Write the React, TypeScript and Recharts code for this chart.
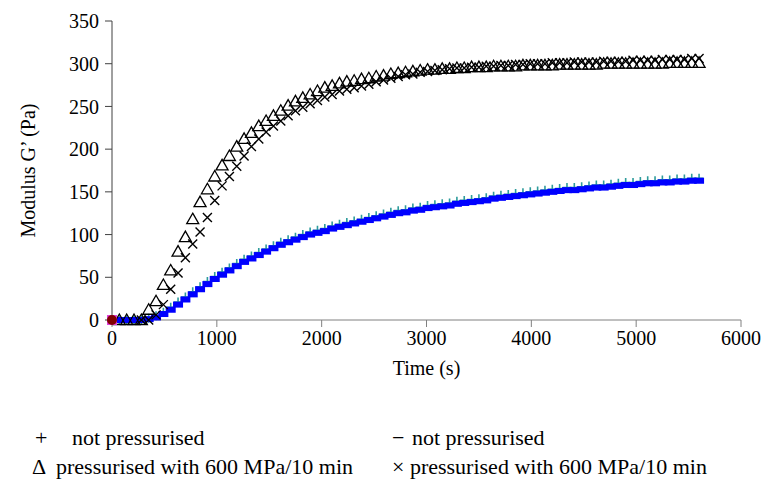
import { ScatterChart, Scatter, XAxis, YAxis } from "recharts";

const times = [
  70, 140, 210, 280, 350, 420, 490, 560, 630, 700,
  770, 840, 910, 980, 1050, 1120, 1190, 1260, 1330, 1400,
  1470, 1540, 1610, 1680, 1750, 1820, 1890, 1960, 2030, 2100,
  2170, 2240, 2310, 2380, 2450, 2520, 2590, 2660, 2730, 2800,
  2870, 2940, 3010, 3080, 3150, 3220, 3290, 3360, 3430, 3500,
  3570, 3640, 3710, 3780, 3850, 3920, 3990, 4060, 4130, 4200,
  4270, 4340, 4410, 4480, 4550, 4620, 4690, 4760, 4830, 4900,
  4970, 5040, 5110, 5180, 5250, 5320, 5390, 5460, 5530, 5600,
];

// Δ pressurised with 600 MPa/10 min
const pressTri = [
  0, 0, 0, 0, 12, 22, 41, 58, 80, 97,
  118, 138, 153, 168, 181, 192, 203, 212, 219, 227,
  233, 239, 245, 251, 256, 260, 264, 268, 272, 274,
  277, 279, 280, 282, 283, 285, 286, 288, 289, 290,
  291, 292, 293, 293, 294, 294, 295, 295, 296, 296,
  296, 297, 297, 297, 297, 298, 298, 298, 298, 298,
  299, 299, 299, 299, 299, 299, 300, 300, 300, 300,
  300, 300, 300, 300, 300, 301, 301, 301, 301, 301,
];

// × pressurised with 600 MPa/10 min
const pressCross = [
  null, null, null, 0, 0, 6, 18, 36, 55, 73,
  89, 103, 120, 140, 157, 168, 180, 192, 203, 212,
  220, 227, 233, 239, 245, 249, 253, 257, 261, 264,
  268, 270, 272, 274, 276, 279, 281, 283, 285, 287,
  288, 290, 291, 292, 293, 294, 295, 295, 296, 296,
  297, 297, 298, 298, 299, 299, 300, 300, 300, 301,
  301, 301, 302, 302, 302, 302, 303, 303, 303, 303,
  304, 304, 304, 304, 305, 305, 305, 305, 306, 306,
];

// + not pressurised
const notPlus = [
  0, 0, 0, 0, 2, 5, 9, 15, 21, 27,
  33, 39, 45, 51, 56, 61, 66, 71, 75, 79,
  83, 87, 91, 94, 97, 100, 103, 105, 107, 110,
  112, 114, 116, 118, 120, 122, 124, 126, 128, 129,
  131, 132, 134, 135, 136, 137, 139, 140, 141, 142,
  143, 145, 146, 147, 148, 149, 150, 151, 152, 153,
  154, 155, 155, 156, 157, 158, 158, 159, 160, 161,
  161, 162, 163, 163, 164, 164, 165, 165, 166, 166,
];

// − not pressurised
const notDash = [
  0, 0, 0, 0, 1, 3, 7, 12, 18, 24,
  30, 36, 42, 48, 53, 58, 63, 68, 72, 76,
  80, 84, 88, 91, 94, 97, 100, 102, 104, 107,
  109, 111, 113, 115, 117, 119, 121, 123, 125, 126,
  128, 129, 131, 132, 133, 134, 136, 137, 138, 139,
  140, 142, 143, 144, 145, 146, 147, 148, 149, 150,
  151, 152, 152, 153, 154, 155, 155, 156, 157, 158,
  158, 159, 160, 160, 161, 161, 162, 162, 163, 163,
];

const xTicks = [0, 1000, 2000, 3000, 4000, 5000, 6000];
const yTicks = [0, 50, 100, 150, 200, 250, 300, 350];

const toPoints = (vals: (number | null)[]) =>
  times
    .map((t, i) => ({ x: t, y: vals[i] }))
    .filter((p) => p.y !== null);

const FONT = "Liberation Serif, Tinos, Times New Roman, DejaVu Serif, serif";

const Triangle = (p: any) => {
  const { cx, cy } = p;
  return (
    <path
      d={`M${cx},${cy - 6} L${cx + 6},${cy + 4.5} L${cx - 6},${cy + 4.5} Z`}
      fill="none"
      stroke="#000"
      strokeWidth={1.3}
    />
  );
};

const Cross = (p: any) => {
  const { cx, cy } = p;
  const r = 4.5;
  return (
    <path
      d={`M${cx - r},${cy - r} L${cx + r},${cy + r} M${cx - r},${cy + r} L${cx + r},${cy - r}`}
      stroke="#000"
      strokeWidth={1.4}
    />
  );
};

const Plus = (p: any) => {
  const { cx, cy } = p;
  const r = 4.5;
  return (
    <path
      d={`M${cx - r},${cy} L${cx + r},${cy} M${cx},${cy - r} L${cx},${cy + r}`}
      stroke="#2e9c9c"
      strokeWidth={1.6}
    />
  );
};

const Dash = (p: any) => {
  const { cx, cy } = p;
  return <rect x={cx - 5} y={cy - 3} width={10} height={6} fill="#0000ff" />;
};

const Origin = (p: any) => {
  const { cx, cy } = p;
  return (
    <g>
      <rect x={cx - 5} y={cy - 5} width={10} height={10} fill="#e040e0" />
      <circle cx={cx} cy={cy} r={5} fill="#800000" />
    </g>
  );
};

const tickStyle = { fill: "#000", fontSize: 20, fontFamily: FONT };

export default function App() {
  return (
    <div
      style={{
        position: "absolute",
        left: 0,
        top: 0,
        width: 768,
        height: 481,
        background: "#fff",
        fontFamily: FONT,
      }}
    >
      <ScatterChart
        width={768}
        height={481}
        margin={{ top: 21, right: 27, bottom: 101, left: 52 }}
        style={{ fontFamily: FONT }}
      >
        <XAxis
          type="number"
          dataKey="x"
          domain={[0, 6000]}
          ticks={xTicks}
          interval={0}
          tick={tickStyle}
          tickSize={7}
          tickMargin={4}
          stroke="#808080"
          height={60}
          label={{ value: "Time (s)", position: "insideBottom", offset: 5, fill: "#000", fontSize: 20, fontFamily: FONT }}
        />
        <YAxis
          type="number"
          dataKey="y"
          domain={[0, 350]}
          ticks={yTicks}
          interval={0}
          tick={tickStyle}
          tickSize={7}
          tickMargin={6}
          stroke="#404040"
          width={60}
          label={{ value: "Modulus G’ (Pa)", angle: -90, position: "insideLeft", offset: -24, fill: "#000", fontSize: 20, fontFamily: FONT, style: { textAnchor: "middle" } }}
        />
        <Scatter data={toPoints(notPlus)} shape={Plus} isAnimationActive={false} />
        <Scatter data={toPoints(notDash)} shape={Dash} isAnimationActive={false} />
        <Scatter data={toPoints(pressCross)} shape={Cross} isAnimationActive={false} />
        <Scatter data={toPoints(pressTri)} shape={Triangle} isAnimationActive={false} />
        <Scatter data={[{ x: 0, y: 0 }]} shape={Origin} isAnimationActive={false} />
      </ScatterChart>
      <div style={{ position: "absolute", left: 0, top: 0, fontSize: 22, color: "#000", whiteSpace: "pre" }}>
        <span style={{ position: "absolute", left: 35, top: 425 }}>+</span>
        <span style={{ position: "absolute", left: 72, top: 425 }}>not pressurised</span>
        <span style={{ position: "absolute", left: 392, top: 425 }}>−</span>
        <span style={{ position: "absolute", left: 412, top: 425 }}>not pressurised</span>
        <span style={{ position: "absolute", left: 32, top: 454 }}>Δ</span>
        <span style={{ position: "absolute", left: 56, top: 454 }}>pressurised with 600 MPa/10 min</span>
        <span style={{ position: "absolute", left: 392, top: 454 }}>× pressurised with 600 MPa/10 min</span>
      </div>
    </div>
  );
}
